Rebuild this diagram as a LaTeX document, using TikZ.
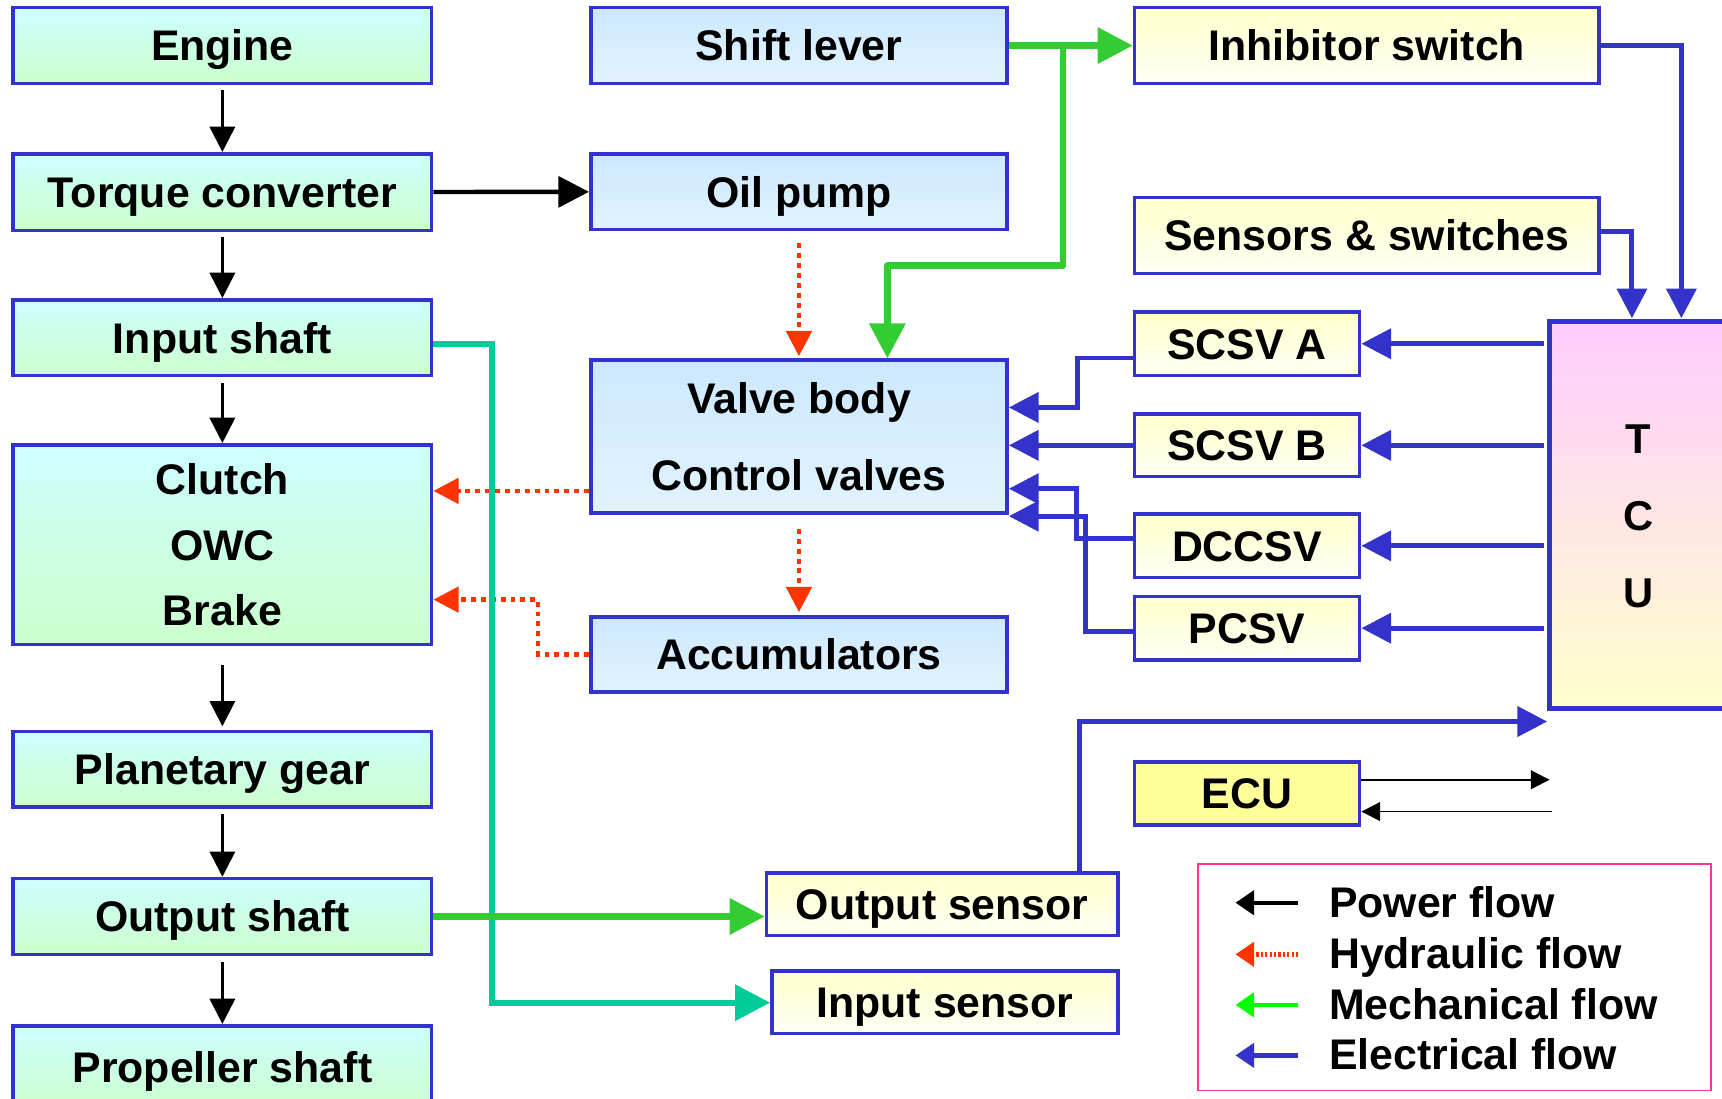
\documentclass[tikz,border=0pt]{standalone}
\usepackage{fontspec}
\setmainfont{Liberation Sans}
\usetikzlibrary{arrows.meta}
\definecolor{bcol}{HTML}{3333CC}
\definecolor{ltop}{HTML}{CCFFFF}
\definecolor{lbot}{HTML}{CCFFCC}
\definecolor{mtop}{HTML}{CCE8FF}
\definecolor{mbot}{HTML}{E2F3FF}
\definecolor{rtop}{HTML}{FFFFCC}
\definecolor{rbot}{HTML}{FFFFF4}
\definecolor{ecuc}{HTML}{FFFF99}
\definecolor{ttop}{HTML}{FFCCFF}
\definecolor{tbot}{HTML}{FFFFCC}
\definecolor{gcol}{HTML}{33CC33}
\definecolor{tcol}{HTML}{00CC99}
\definecolor{hcol}{HTML}{FF3300}
\definecolor{lgcol}{HTML}{00FF00}
\definecolor{pkcol}{HTML}{FF3399}
\begin{document}
\begin{tikzpicture}[x=1pt,y=-1pt,
  bx/.style={draw=bcol, line width=3.3pt, inner sep=0pt, align=center, font=\fontsize{39}{47}\selectfont\bfseries},
  one/.style={bx, text height=37pt, text depth=9pt},
  lfill/.style={top color=ltop, bottom color=lbot, minimum width=381pt},
  mfill/.style={top color=mtop, bottom color=mbot, minimum width=379pt},
  rfill/.style={top color=rtop, bottom color=rbot},
  lgtext/.style={inner sep=0pt, anchor=base west, font=\fontsize{39}{47}\selectfont\bfseries},
  pwr/.style={draw=black, line width=2.5pt, -{Triangle[length=23pt,width=23pt]}},
  pwrb/.style={draw=black, line width=4pt, -{Triangle[length=28pt,width=28pt]}},
  grn/.style={draw=gcol, line width=6pt, line join=round, -{Triangle[length=32pt,width=32pt]}},
  tel/.style={draw=tcol, line width=5.5pt, -{Triangle[length=32pt,width=32pt]}},
  hyd/.style={draw=hcol, line width=4pt, dash pattern=on 4.5pt off 4.5pt, -{Triangle[length=23pt,width=23pt]}},
  elec/.style={draw=bcol, line width=4.5pt, -{Triangle[length=27pt,width=27pt]}},
  thinar/.style={draw=black, line width=1.5pt, -{Triangle[length=17pt,width=17pt]}}
]
\useasboundingbox (0,0) rectangle (1568,1000);
\clip (0,0) rectangle (1568,1000);

% left column
\node[one,lfill,minimum height=69pt] (engine) at (202.5,41.5) {Engine};
\node[one,lfill,minimum height=70pt] (torque) at (202.5,175) {Torque converter};
\node[one,lfill,minimum height=69pt] (input) at (202.5,307.5) {Input shaft};
\node[bx,lfill,minimum height=182pt,font=\fontsize{39}{60}\selectfont\bfseries] (clutch) at (202.5,496) {Clutch\\OWC\\Brake};
\node[one,lfill,minimum height=69pt] (planet) at (202.5,700.5) {Planetary gear};
\node[one,lfill,minimum height=69pt] (output) at (202.5,834.5) {Output shaft};
\node[one,lfill,minimum height=76pt] (prop) at (202.5,972) {Propeller shaft};

% middle column
\node[one,mfill,minimum height=69pt] (shift) at (727.5,41.5) {Shift lever};
\node[one,mfill,minimum height=69pt] (oil) at (727.5,174.5) {Oil pump};
\node[bx,mfill,minimum height=139pt,font=\fontsize{39}{70}\selectfont\bfseries] (valve) at (727.5,397.5) {Valve body\\Control valves};
\node[one,mfill,minimum height=68pt] (accum) at (727.5,596) {Accumulators};

% right column
\node[one,rfill,minimum width=423pt,minimum height=69pt] (inhib) at (1244.5,41.5) {Inhibitor switch};
\node[one,rfill,minimum width=423pt,minimum height=69pt] (sens) at (1244.5,214.5) {Sensors \& switches};
\node[one,rfill,minimum width=205pt,minimum height=58pt] (scsva) at (1135.5,313) {SCSV A};
\node[one,rfill,minimum width=205pt,minimum height=57pt] (scsvb) at (1135.5,405.5) {SCSV B};
\node[one,rfill,minimum width=205pt,minimum height=58pt] (dccsv) at (1135.5,497) {DCCSV};
\node[one,rfill,minimum width=205pt,minimum height=58pt] (pcsv) at (1135.5,572) {PCSV};
\node[one,fill=ecuc,minimum width=205pt,minimum height=57pt] (ecu) at (1135.5,722.5) {ECU};
\node[bx,line width=4.5pt,top color=ttop,bottom color=tbot,minimum width=190pt,minimum height=352pt] (tcu) at (1506,469) {};
\node[inner sep=0pt,align=center,font=\fontsize{38}{70}\selectfont\bfseries] (tcut) at (1492,470) {T\\C\\U};
\node[one,rfill,minimum width=320pt,minimum height=57pt] (outsens) at (858,823.5) {Output sensor};
\node[one,rfill,minimum width=315pt,minimum height=57pt] (insens) at (860.5,912.5) {Input sensor};

% legend
\node[draw=pkcol,line width=1.5pt,minimum width=467pt,minimum height=206pt,inner sep=0pt] (legend) at (1324.5,890) {};
\node[lgtext] (lg1) at (1210,835) {Power flow};
\node[lgtext] (lg2) at (1210,882) {Hydraulic flow};
\node[lgtext] (lg3) at (1210,928) {Mechanical flow};
\node[lgtext] (lg4) at (1210,974) {Electrical flow};

% helper coordinates
\coordinate (gj) at (968,42);
\coordinate (g2) at (808,242);
\coordinate (h1) at (0,447);
\coordinate (h2) at (490,546);
\coordinate (t0) at (0,313);
\coordinate (t1) at (448,913);
\coordinate (b1) at (0,326);
\coordinate (b2) at (981,371);
\coordinate (b3a) at (0,490);
\coordinate (b3) at (980,445);
\coordinate (b4a) at (0,575);
\coordinate (b4) at (988,470);
\coordinate (b5) at (1531,0);
\coordinate (b6) at (1486,0);
\coordinate (s0) at (0,211);
\coordinate (e1) at (983,657);
\coordinate (e2) at (0,710);
\coordinate (e3) at (1411,710);
\coordinate (e4) at (1413,739);
\coordinate (l1s) at (1182,822); \coordinate (l1e) at (1125,822);
\coordinate (l2s) at (1182,869); \coordinate (l2e) at (1125,869);
\coordinate (l3s) at (1182,915); \coordinate (l3e) at (1125,915);
\coordinate (l4s) at (1182,961); \coordinate (l4e) at (1125,961);

% power flow
\draw[pwr,shorten <=4pt] (engine) -- (torque);
\draw[pwr,shorten <=4pt] (torque) -- (input);
\draw[pwr,shorten <=5pt] (input) -- (clutch);
\draw[pwr,shorten <=17pt,shorten >=3pt] (clutch) -- (planet);
\draw[pwr,shorten <=5pt] (planet) -- (output);
\draw[pwr,shorten <=5pt] (output) -- (prop);
\draw[pwrb] (torque) -- (oil);

% hydraulic
\draw[hyd,shorten <=11pt,shorten >=2pt] (oil) -- (valve);
\draw[hyd,shorten <=13pt,shorten >=3pt] (valve) -- (accum);
\draw[hyd] (valve.west |- h1) -- (clutch.east |- h1);
\draw[hyd] (accum.west) -| (h2) -- (clutch.east |- h2);

% mechanical
\draw[tel] (input.east |- t0) -| (t1) -- (insens.west |- t1);
\draw[grn] (shift.east) -- (inhib.west);
\draw[grn] (gj) |- (g2) -- (g2 |- valve.north);
\draw[grn] (output.east) -- (outsens.west |- output.east);

% electrical
\draw[elec,shorten >=1pt] (inhib.east) -| (tcu.north -| b5);
\draw[elec,shorten >=1pt] (sens.east |- s0) -| (tcu.north -| b6);
\draw[elec,shorten <=3pt] (tcu.west |- scsva.east) -- (scsva.east);
\draw[elec,shorten <=3pt] (tcu.west |- scsvb.east) -- (scsvb.east);
\draw[elec,shorten <=3pt] (tcu.west |- dccsv.east) -- (dccsv.east);
\draw[elec,shorten <=3pt] (tcu.west |- pcsv.east) -- (pcsv.east);
\draw[elec] (scsva.west |- b1) -| (b2) -- (valve.east |- b2);
\draw[elec] (scsvb.west) -- (valve.east |- scsvb.west);
\draw[elec] (dccsv.west |- b3a) -| (b3) -- (valve.east |- b3);
\draw[elec] (pcsv.west |- b4a) -| (b4) -- (valve.east |- b4);
\draw[elec] (outsens.north -| e1) -- (e1) -- (tcu.west |- e1);
\draw[thinar] (ecu.east |- e2) -- (e3);
\draw[thinar] (e4) -- (ecu.east |- e4);

% legend arrows
\draw[draw=black, line width=4pt, -{Triangle[length=17pt,width=22pt]}] (l1s) -- (l1e);
\draw[draw=hcol, line width=4pt, dash pattern=on 2pt off 2pt, -{Triangle[length=17pt,width=22pt]}] (l2s) -- (l2e);
\draw[draw=lgcol, line width=4pt, -{Triangle[length=17pt,width=22pt]}] (l3s) -- (l3e);
\draw[draw=bcol, line width=4pt, -{Triangle[length=17pt,width=22pt]}] (l4s) -- (l4e);
\end{tikzpicture}
\end{document}
